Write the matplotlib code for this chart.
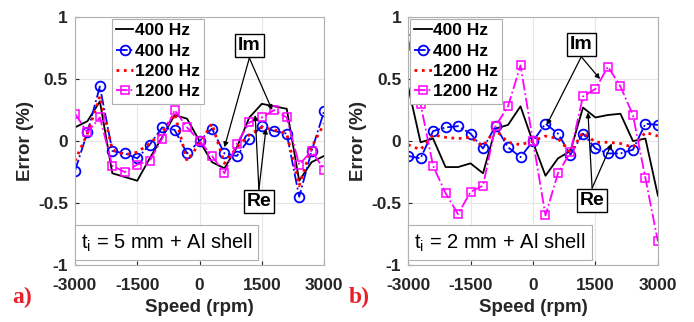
import numpy as np
import matplotlib
matplotlib.use('Agg')
import matplotlib.pyplot as plt

plt.rcParams['font.family'] = ['Liberation Sans', 'DejaVu Sans']
plt.rcParams['mathtext.default'] = 'regular'
plt.rcParams['axes.unicode_minus'] = False

# speed in rpm, 300 rpm steps
speed = np.arange(-3000, 3001, 300)

# a) t_i = 5 mm + Al shell
a_im_400 = [0.11, 0.16, 0.32, -0.26, -0.29, -0.32, -0.14, 0.03, 0.21, 0.18, 0.0,
            -0.17, -0.22, -0.05, 0.19, 0.30, 0.28, 0.26, -0.32, -0.17, -0.12]
a_re_400 = [-0.24, 0.07, 0.44, -0.08, -0.10, -0.14, -0.03, 0.11, 0.09, -0.10, 0.0,
            0.10, -0.10, -0.12, 0.02, 0.12, 0.08, 0.06, -0.45, -0.08, 0.24]
a_im_1200 = [-0.16, 0.06, 0.36, -0.07, -0.11, -0.09, -0.02, 0.07, 0.22, -0.16, -0.02,
             0.14, -0.18, -0.05, 0.05, 0.11, 0.09, 0.06, -0.36, -0.05, 0.14]
a_re_1200 = [0.22, 0.07, 0.19, -0.20, -0.25, -0.19, -0.16, 0.02, 0.25, 0.11, 0.0,
             -0.12, -0.26, -0.02, 0.15, 0.19, 0.25, 0.19, -0.19, -0.08, -0.23]

# b) t_i = 2 mm + Al shell
b_im_400 = [0.44, -0.01, 0.02, -0.21, -0.21, -0.18, -0.26, 0.10, 0.13, 0.28, -0.01,
            -0.28, -0.14, -0.08, 0.27, 0.19, 0.21, 0.22, 0.0, 0.02, -0.44]
b_re_400 = [-0.12, -0.14, 0.08, 0.11, 0.12, 0.06, -0.06, 0.12, -0.05, -0.13, 0.0,
            0.14, 0.06, -0.11, 0.06, -0.06, -0.10, -0.10, -0.07, 0.14, 0.13]
b_im_1200 = [-0.03, -0.07, 0.05, 0.03, 0.02, 0.03, -0.04, 0.09, -0.01, -0.03, 0.0,
             0.04, 0.02, -0.09, 0.07, -0.01, -0.01, -0.02, -0.05, 0.07, 0.04]
b_re_1200 = [0.82, 0.30, -0.20, -0.42, -0.59, -0.41, -0.36, 0.12, 0.28, 0.61, 0.0,
             -0.60, -0.26, -0.09, 0.36, 0.42, 0.60, 0.44, 0.21, -0.30, -0.81]

labels = ['400 Hz', '400 Hz', '1200 Hz', '1200 Hz']

panels = [
    dict(data=(a_im_400, a_re_400, a_im_1200, a_re_1200), pos=[0.108, 0.177, 0.359, 0.770],
         text='t$_i$ = 5 mm + Al shell', tag='a)', tag_x=0.017, leg=(0.14, 1.0),
         im_xy=(1200, 0.77), im_tips=[(600, -0.05), (1750, 0.25)],
         re_xy=(1430, -0.49), re_tips=[(1340, 0.21), (1600, 0.10)]),
    dict(data=(b_im_400, b_re_400, b_im_1200, b_re_1200), pos=[0.588, 0.177, 0.360, 0.770],
         text='t$_i$ = 2 mm + Al shell', tag='b)', tag_x=0.502, leg=(0.0, 1.0),
         im_xy=(1160, 0.78), im_tips=[(330, 0.13), (1610, 0.50)],
         re_xy=(1420, -0.48), re_tips=[(1320, 0.23), (1890, -0.02)]),
]

fig = plt.figure(figsize=(6.94, 3.22), dpi=100)

for p in panels:
    ax = fig.add_axes(p['pos'])
    d1, d2, d3, d4 = p['data']
    ax.plot(speed, d1, '-', color='k', lw=1.3, label=labels[0])
    ax.plot(speed, d2, '-.', color='#0000ff', lw=1.3, marker='o', ms=7,
            mfc='none', mew=1.3, label=labels[1])
    ax.plot(speed, d3, ':', color='#ff0000', lw=2.0, label=labels[2])
    ax.plot(speed, d4, '-.', color='#ff00ff', lw=1.3, marker='s', ms=6,
            mfc='none', mew=1.1, label=labels[3])

    ax.set_xlim(-3000, 3000)
    ax.set_ylim(-1, 1)
    ax.set_xticks([-3000, -1500, 0, 1500, 3000])
    ax.set_yticks([-1, -0.5, 0, 0.5, 1])
    ax.set_yticklabels(['-1', '-0.5', '0', '0.5', '1'])
    ax.grid(True, color='#e6e6e6', lw=0.8)
    ax.set_axisbelow(True)
    ax.tick_params(direction='in', length=3, color='#262626', labelsize=12.5)
    ax.tick_params(axis='x', pad=9)
    ax.tick_params(axis='y', pad=5)
    for lab in ax.get_xticklabels() + ax.get_yticklabels():
        lab.set_fontweight('bold')
        lab.set_color('#262626')
    for sp in ax.spines.values():
        sp.set_color('#b0b0b0')
    ax.set_xlabel('Speed (rpm)', fontsize=13.5, fontweight='bold', color='#262626', labelpad=5)
    ax.set_ylabel('Error (%)', fontsize=13.5, fontweight='bold', color='#262626', labelpad=3)

    leg = ax.legend(loc='upper left', bbox_to_anchor=p['leg'], prop=dict(size=12.5, weight='bold'),
                    handlelength=1.0, handletextpad=0.1, borderpad=0.25, labelspacing=0.3,
                    borderaxespad=0.1, fancybox=False, framealpha=1)
    leg.get_frame().set_edgecolor('#b0b0b0')
    leg.get_frame().set_linewidth(0.8)

    ax.text(0.025, 0.09, p['text'], transform=ax.transAxes, fontsize=14.5, va='center',
            bbox=dict(boxstyle='square,pad=0.3', fc='white', ec='#b0b0b0', lw=0.8))

    # annotation boxes with arrows
    bbox_kw = dict(boxstyle='square,pad=0.15', fc='white', ec='k', lw=1.0)
    arrow_kw = dict(arrowstyle='-|>', color='k', lw=0.9, mutation_scale=7, shrinkA=0, shrinkB=0)
    for tip in p['im_tips']:
        ax.annotate('', xy=tip, xytext=(p['im_xy'][0], p['im_xy'][1] - 0.1), arrowprops=arrow_kw)
    for tip in p['re_tips']:
        ax.annotate('', xy=tip, xytext=(p['re_xy'][0], p['re_xy'][1] + 0.1), arrowprops=arrow_kw)
    ax.text(*p['im_xy'], 'Im', ha='center', va='center', fontsize=14, fontweight='bold', bbox=bbox_kw)
    ax.text(*p['re_xy'], 'Re', ha='center', va='center', fontsize=14, fontweight='bold', bbox=bbox_kw)

    fig.text(p['tag_x'], 0.06, p['tag'], color='#e8202a', fontsize=17, fontweight='bold',
             family='Liberation Serif')

fig.savefig('out.png', dpi=100)
